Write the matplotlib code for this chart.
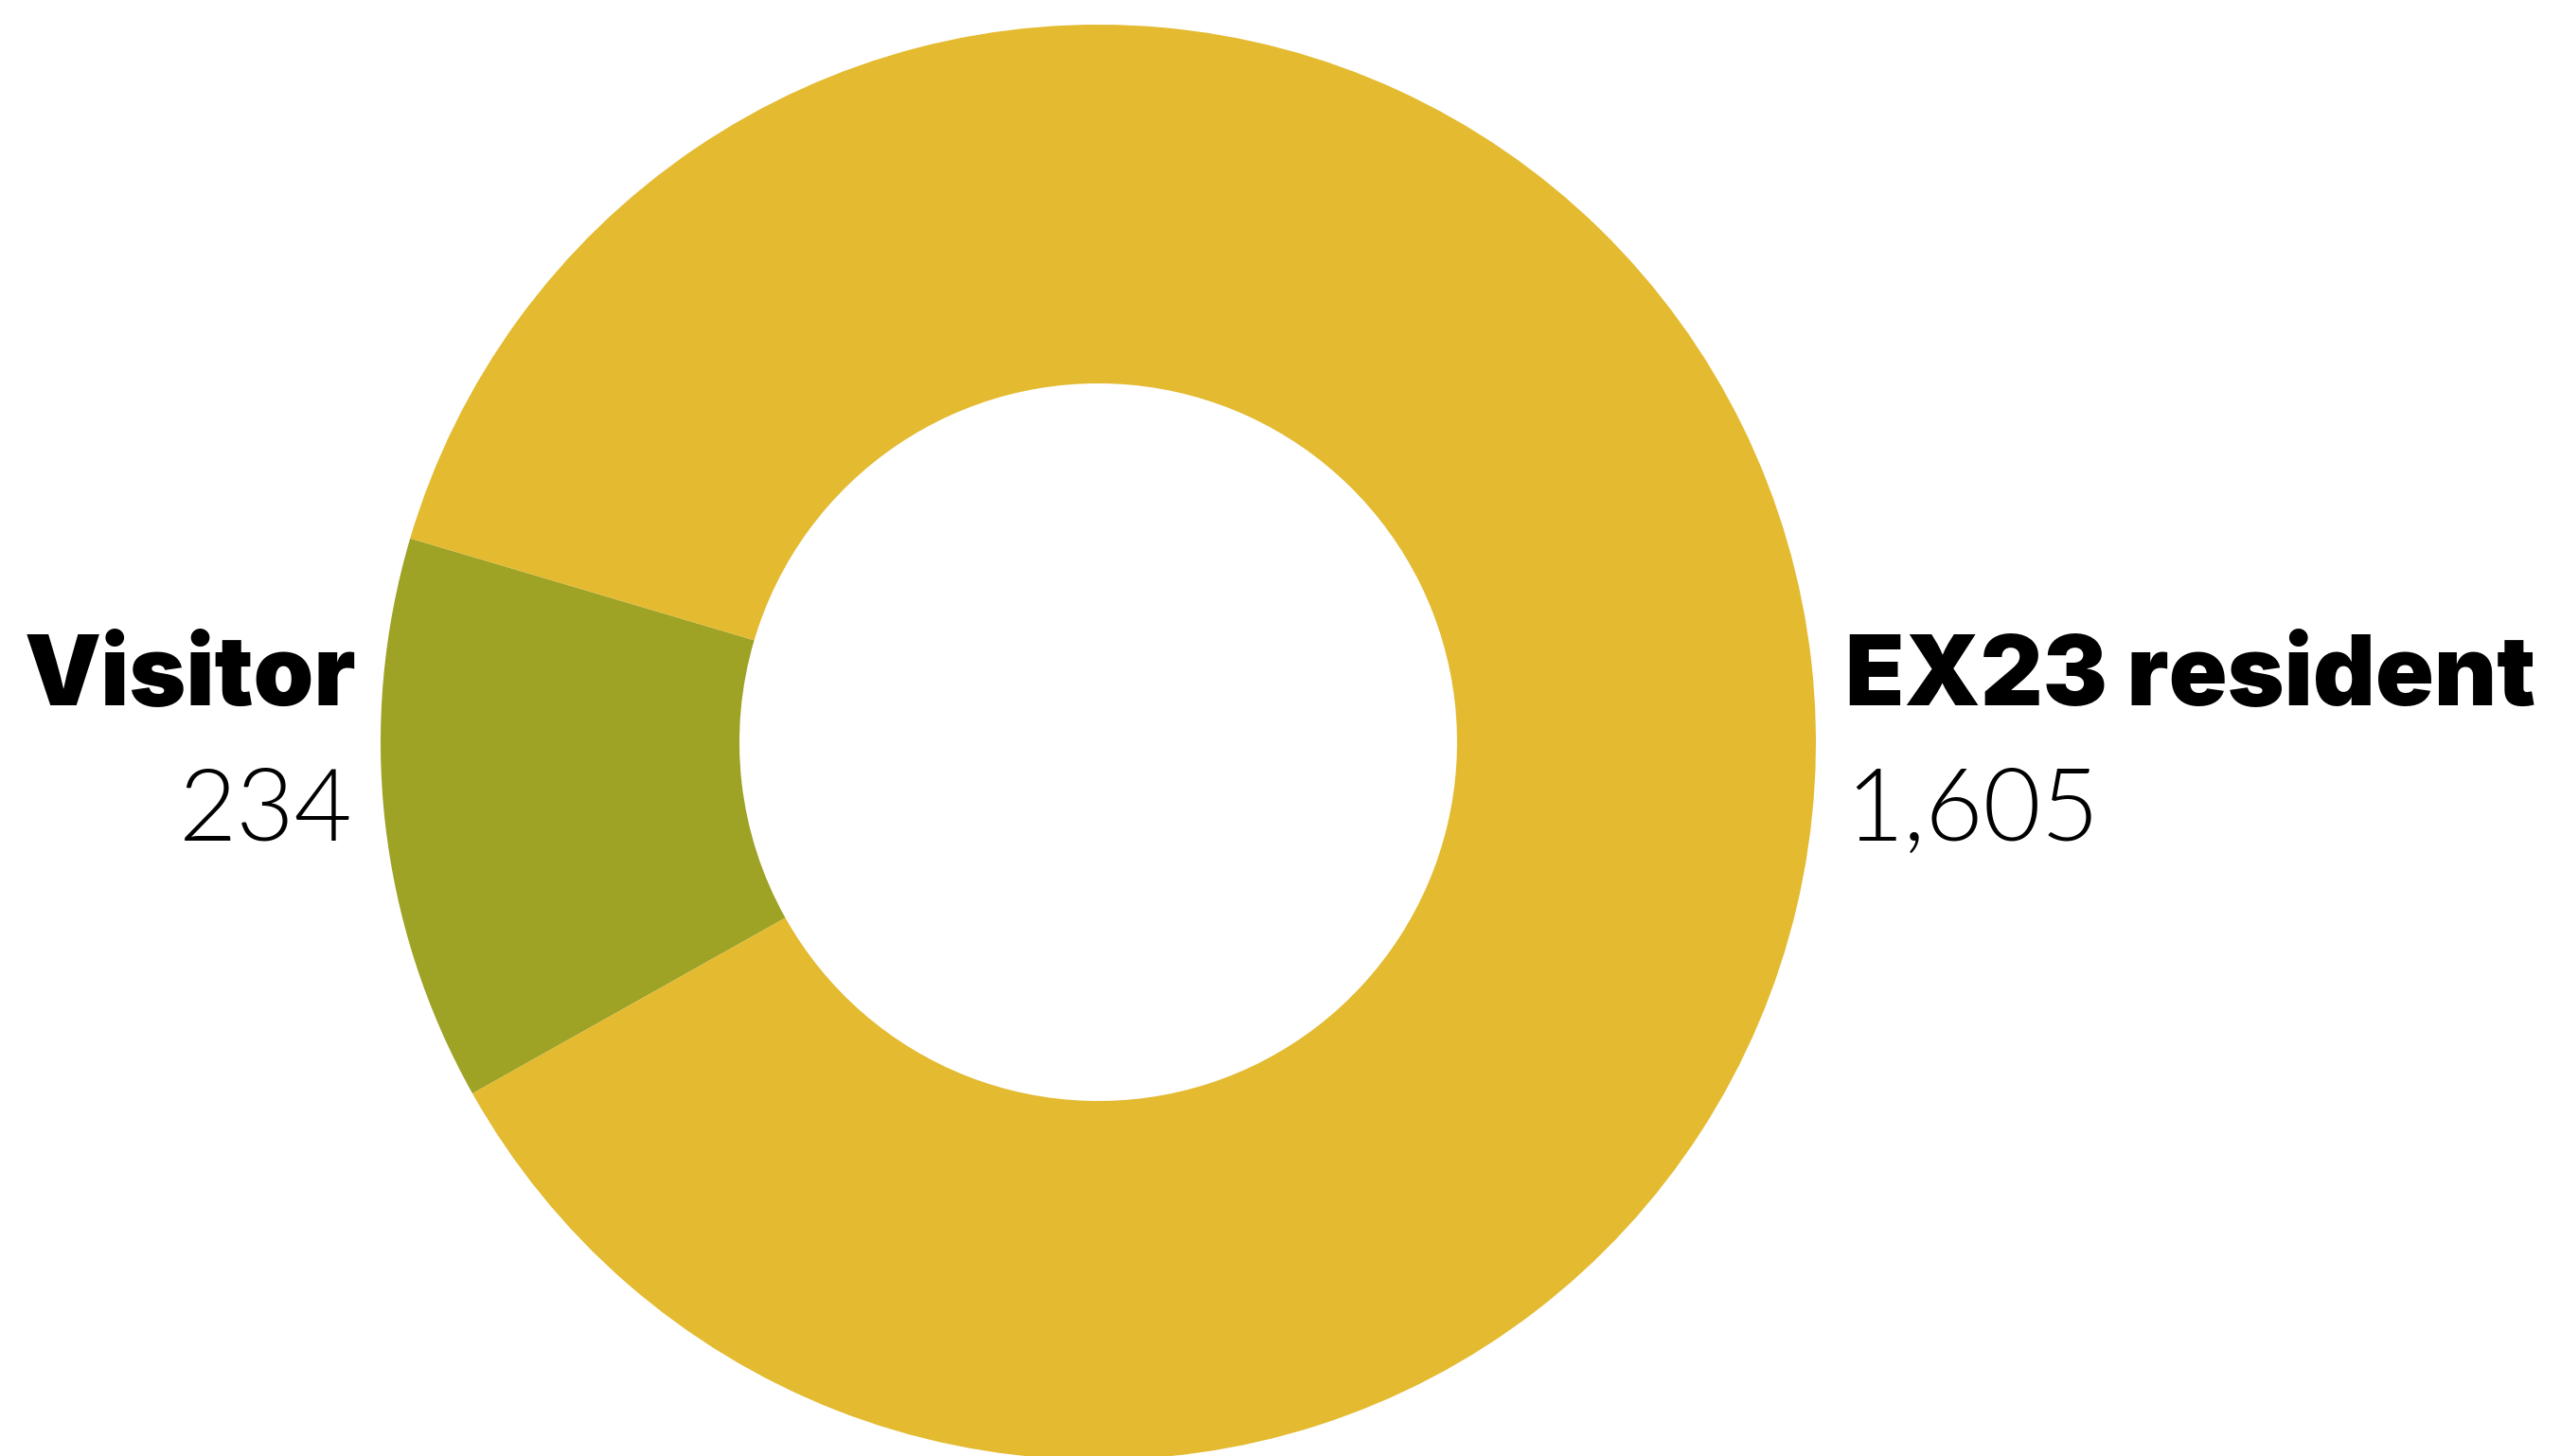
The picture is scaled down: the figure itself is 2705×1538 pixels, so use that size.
import matplotlib
matplotlib.use("Agg")
import matplotlib.pyplot as plt

categories = ["Visitor", "EX23 resident"]
values = [234, 1605]
value_labels = ["234", "1,605"]
colors = ["#9EA225", "#E3BA30"]

W, H = 2705, 1538
fig = plt.figure(figsize=(W / 100, H / 100), dpi=100)
ax = fig.add_axes([0, 0, 1, 1])

cx, cy, R = 1160, H - 784, 758
ax.pie(values, colors=colors, startangle=163.5, counterclock=True,
       center=(cx, cy), radius=R, frame=True,
       wedgeprops=dict(width=R * 0.5, linewidth=0))
ax.set_xlim(0, W)
ax.set_ylim(0, H)
ax.set_aspect("equal")
ax.axis("off")

bold = dict(fontsize=73.5, fontfamily="Inter", fontweight=900, color="black")
light = dict(fontsize=76, fontfamily="Lato", fontweight=300, color="black")

ax.text(376, H - 745, categories[0], ha="right", va="baseline", **bold)
ax.text(373, H - 888, value_labels[0], ha="right", va="baseline", **light)
ax.text(1949, H - 745, categories[1], ha="left", va="baseline", **bold)
ax.text(1949, H - 888, value_labels[1], ha="left", va="baseline", **light)

fig.savefig("out.png", dpi=100, facecolor="white")
